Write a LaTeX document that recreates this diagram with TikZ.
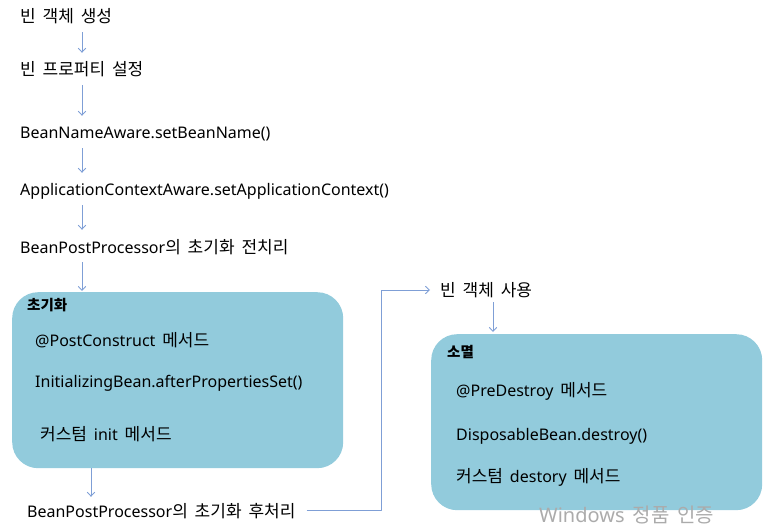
\documentclass[tikz,border=0pt]{standalone}
\usepackage{fontspec}
\setmainfont{Noto Sans}
\newfontfamily\krfont[WordSpace=1.8]{Noto Sans CJK KR}
\newcommand{\kr}[1]{{\krfont\fontsize{17}{20}\selectfont #1}}
\newcommand{\krhdr}[1]{{\krfont\fontsize{14.5}{17}\selectfont\bfseries #1}}
\usetikzlibrary{positioning,arrows.meta}

\definecolor{stagefill}{HTML}{92CBDC}
\definecolor{flowblue}{HTML}{7F9FD6}

\begin{document}
\begin{tikzpicture}[
        x = 1pt, y = -1pt,
        line join=round,
        lbl/.style = {anchor=base west, inner sep=0pt, text height=11pt, text depth=4pt, font=\fontsize{16}{19}\selectfont},
        flow/.style = {draw=flowblue, line width=0.9pt, -{Straight Barb[length=4pt, width=7.5pt]}, shorten <=5pt, shorten >=12pt},
        stagebox/.style = {fill=stagefill, draw=none, rounded corners=26pt, anchor=north west, inner sep=0pt}
    ]
        \useasboundingbox (0,0) rectangle (778,529);

        \coordinate (spine) at (82,0);

        \node[lbl] (create) at (20,23) {\kr{빈 객체 생성}};
        \node[lbl] (prop) at (20,76) {\kr{빈 프로퍼티 설정}};
        \node[lbl] (nameaware) at (20,139) {BeanNameAware.setBeanName()};
        \node[lbl] (ctxaware) at (20,196) {ApplicationContextAware.setApplicationContext()};
        \node[lbl] (before) at (20,253) {BeanPostProcessor\kr{의 초기화 전치리}};

        \node[stagebox, minimum width=331pt, minimum height=176pt] (init) at (12,292) {};
        \node[lbl] (inithdr) at (27,310) {\krhdr{초기화}};
        \node[lbl] (postcons) at (35,346) {@PostConstruct\kr{ 메서드}};
        \node[lbl] (afterprops) at (35,387) {InitializingBean.afterPropertiesSet()};
        \node[lbl] (initm) at (40,440) {\kr{커스텀 }init\kr{ 메서드}};

        \node[lbl] (after) at (27,517) {BeanPostProcessor\kr{의 초기화 후처리}};

        \node[lbl] (use) at (440,296) {\kr{빈 객체 사용}};

        \node[stagebox, minimum width=331pt, minimum height=176pt] (destroy) at (431,334) {};
        \node[lbl] (destroyhdr) at (447,357) {\krhdr{소멸}};
        \node[lbl] (predes) at (456,396) {@PreDestroy\kr{ 메서드}};
        \node[lbl] (dispose) at (456,440) {DisposableBean.destroy()};
        \node[lbl] (destroym) at (456,482) {\kr{커스텀 }destory\kr{ 메서드}};

        \coordinate (jog) at (381,290);

        \draw[flow] (create.south -| spine) -- (prop.north -| spine);
        \draw[flow] (prop.south -| spine) -- (nameaware.north -| spine);
        \draw[flow] (nameaware.south -| spine) -- (ctxaware.north -| spine);
        \draw[flow] (ctxaware.south -| spine) -- (before.north -| spine);
        \draw[flow, shorten >=1pt] (before.south -| spine) -- (init.north -| spine);
        \draw[flow, shorten <=0pt, shorten >=9pt] (init.south -| 91,0) -- (after.north -| 91,0);
        \draw[flow, shorten <=0pt, shorten >=10pt] ([xshift=11pt, yshift=3pt]after.east) -| (jog) -- (use.west |- jog);
        \draw[flow, shorten <=2pt, shorten >=2pt] (use.south -| 493,0) -- (destroy.north -| 493,0);

        \node[anchor=base west, inner sep=0pt, text=black!33, font=\fontsize{20}{23}\selectfont] (watermark) at (539,522) {Windows{\krfont\fontsize{20}{23}\selectfont{} 정품 인증}};

    \end{tikzpicture}
\end{document}
